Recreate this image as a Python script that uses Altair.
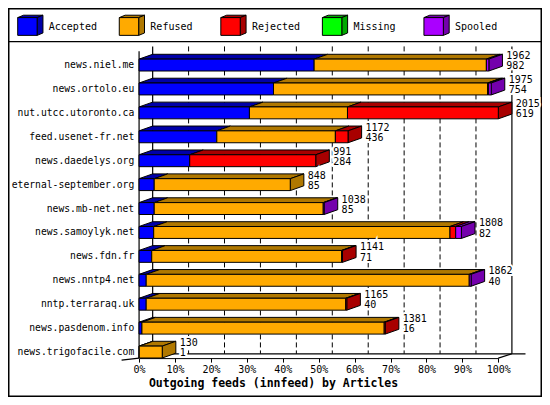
import altair as alt
import pandas as pd

# ---------------- data ----------------
hosts = ["news.niel.me", "news.ortolo.eu", "nut.utcc.utoronto.ca", "feed.usenet-fr.net",
         "news.daedelys.org", "eternal-september.org", "news.mb-net.net", "news.samoylyk.net",
         "news.fdn.fr", "news.nntp4.net", "nntp.terraraq.uk", "news.pasdenom.info",
         "news.trigofacile.com"]
offered = [1962, 1975, 2015, 1172, 991, 848, 1038, 1808, 1141, 1862, 1165, 1381, 130]
accepted = [982, 754, 619, 436, 284, 85, 85, 82, 71, 40, 40, 16, 1]
refused = [966, 1201, 550, 665, 0, 763, 948, 1662, 1065, 1812, 1119, 1359, 129]
rejected = [0, 6, 846, 71, 707, 0, 0, 32, 5, 0, 6, 6, 0]
missing = [0, 0, 0, 0, 0, 0, 0, 0, 0, 0, 0, 0, 0]
spooled = [14, 14, 0, 0, 0, 0, 5, 32, 0, 10, 0, 0, 0]

statuses = ["Accepted", "Refused", "Rejected", "Missing", "Spooled"]
face_colors = ["#0000FF", "#FFAA00", "#FF0000", "#00FF00", "#AA00FF"]
shade_colors = ["#0000A8", "#B07800", "#A80000", "#00A800", "#7400AC"]
tick_values = [0, 10, 20, 30, 40, 50, 60, 70, 80, 90, 100]
x_title = "Outgoing feeds (innfeed) by Articles"

# ---------------- layout (reference pixels -> data units) ----------------
W, H = 534, 389
SX, SY = W / 550, H / 405
X0, X100 = 135.0, 505.0
Y0, Y12 = 59.4, 358.2
PPP = (X100 - X0) / 100.0
PPR = (Y12 - Y0) / 12.0


def px2x(p):
    return (p - X0) / PPP


def px2y(p):
    return (p - Y0) / PPR


DX = 14 / PPP
DY = 5 / PPR
HH = 6.2 / PPR
MONO = "DejaVu Sans Mono"
FLOOR_FRONT = 364.5

xs = alt.Scale(domain=[0, 100], range=[X0 * SX, X100 * SX], zero=False, nice=False)
ys = alt.Scale(domain=[0, 12], range=[Y0 * SY, Y12 * SY], zero=False, nice=False)

xaxis = alt.Axis(values=tick_values, labelExpr="datum.value + '%'",
                 offset=FLOOR_FRONT * SY - H,
                 tickSize=4, tickColor="black", domainColor="black", domainWidth=1,
                 labelFont=MONO, labelFontSize=10, labelColor="black", labelPadding=2,
                 labelFlush=False, labelOverlap=False, grid=False,
                 title=x_title, titleFont=MONO, titleFontSize=11.5, titleFontWeight="bold",
                 titleColor="black", titleX=273 * SX, titleY=(391 - FLOOR_FRONT) * SY,
                 titleAlign="center", titleBaseline="middle", titleAnchor="start")


def X(f):
    return alt.X(f, type="quantitative", scale=xs, axis=xaxis)


def Y(f):
    return alt.Y(f, type="quantitative", scale=ys, axis=None)


# ---------------- faces of the 3-D boxes ----------------
front, top, side = [], [], []
gid = [0]


def add_box(x0, x1, ytop, ybot, dx, dy, key, last):
    gid[0] += 1
    g = gid[0]
    front.append(dict(x=x0, x2=x1, y=ytop, y2=ybot, key=key))
    top.append(dict(g=g, y=ytop, x=x0, x2=x1, key=key + " shade"))
    top.append(dict(g=g, y=ytop - dy, x=x0 + dx, x2=x1 + dx, key=key + " shade"))
    if last:
        side.append(dict(g=g, x=x1, y=ytop, y2=ybot, key=key + " shade"))
        side.append(dict(g=g, x=x1 + dx, y=ytop - dy, y2=ybot - dy, key=key + " shade"))


maxv = max(offered)
labels = []
for i, h in enumerate(hosts):
    vals = [accepted[i], refused[i], rejected[i], missing[i], spooled[i]]
    segs = [(s, v) for s, v in zip(statuses, vals) if v > 0]
    cum = 0
    for j, (s, v) in enumerate(segs):
        a = cum / maxv * 100
        b = (cum + v) / maxv * 100
        add_box(a, b, i - HH, i + HH, DX, DY, s, j == len(segs) - 1)
        cum += v
    xe = offered[i] / maxv * 100 + DX + 4 / PPP
    labels.append(dict(x=xe, y=i - 9.4 / PPR, t=str(offered[i])))
    labels.append(dict(x=xe, y=i + 1.3 / PPR, t=str(accepted[i])))

# legend cubes
leg_text = []
for k, s in enumerate(statuses):
    lx = 10 + 104.6 * k
    add_box(px2x(lx), px2x(lx + 20), px2y(10), px2y(28.5), 6 / PPP, 2.5 / PPR, s, True)
    leg_text.append(dict(x=px2x(lx + 32), y=px2y(19.5), t=s))

front_df = pd.DataFrame(front)
top_df = pd.DataFrame(top)
side_df = pd.DataFrame(side)
lab_df = pd.DataFrame(labels)
leg_df = pd.DataFrame(leg_text)
host_df = pd.DataFrame(dict(y=list(range(len(hosts))), t=hosts))

fill = alt.Fill("key:N", legend=None,
                scale=alt.Scale(domain=statuses + [s + " shade" for s in statuses],
                                range=face_colors + shade_colors))

# ---------------- frame lines ----------------
yb_top, yb_floor = px2y(40), px2y(360)
solid = [
    dict(x=DX, x2=DX, y=yb_top, y2=yb_floor),                       # back wall left
    dict(x=100 + DX, x2=100 + DX, y=yb_top, y2=yb_floor),           # back wall right
    dict(x=DX, x2=px2x(533), y=yb_floor, y2=yb_floor),              # floor back edge
    dict(x=0, x2=0, y=px2y(45), y2=px2y(FLOOR_FRONT)),              # front left axis
    dict(x=px2x(117), x2=0, y=px2y(366.7), y2=px2y(FLOOR_FRONT)),   # left floor edge
    dict(x=100, x2=100 + DX, y=px2y(FLOOR_FRONT), y2=yb_floor),     # right floor edge
    dict(x=px2x(0), x2=px2x(550), y=px2y(35), y2=px2y(35)),         # legend separator
]
dashed = [dict(x=v + DX, x2=v + DX, y=yb_top, y2=yb_floor) for v in tick_values[1:-1]]
solid_df = pd.DataFrame(solid)
dashed_df = pd.DataFrame(dashed)

l_dash = alt.Chart(dashed_df).mark_rule(color="black", strokeDash=[5, 3], strokeWidth=1).encode(
    x=X("x"), x2="x2", y=Y("y"), y2="y2")
l_solid = alt.Chart(solid_df).mark_rule(color="black", strokeWidth=1.2).encode(
    x=X("x"), x2="x2", y=Y("y"), y2="y2")
l_top = alt.Chart(top_df).mark_area(orient="horizontal", stroke="black", strokeWidth=1).encode(
    y=Y("y"), x=X("x"), x2="x2", fill=fill, detail="g:N")
l_side = alt.Chart(side_df).mark_area(orient="vertical", stroke="black", strokeWidth=1).encode(
    x=X("x"), y=Y("y"), y2="y2", fill=fill, detail="g:N")
l_front = alt.Chart(front_df).mark_rect(stroke="black", strokeWidth=1).encode(
    x=X("x"), x2="x2", y=Y("y"), y2="y2", fill=fill)
l_hosts = alt.Chart(host_df).mark_text(align="right", baseline="middle", font=MONO,
                                        fontSize=9.7, color="black").encode(
    x=alt.value(130 * SX), y=Y("y"), text="t:N")
l_halo = alt.Chart(lab_df).mark_text(align="left", baseline="middle", font=MONO,
                                      fontSize=10, color="white", stroke="white",
                                      strokeWidth=4).encode(
    x=X("x"), y=Y("y"), text="t:N")
l_vals = alt.Chart(lab_df).mark_text(align="left", baseline="middle", font=MONO,
                                      fontSize=10, color="black").encode(
    x=X("x"), y=Y("y"), text="t:N")
l_leg = alt.Chart(leg_df).mark_text(align="left", baseline="middle", font=MONO,
                                     fontSize=10, color="black").encode(
    x=X("x"), y=Y("y"), text="t:N")

chart = alt.layer(l_dash, l_solid, l_top, l_side, l_front, l_hosts, l_halo, l_vals,
                  l_leg).properties(
    width=W, height=H, autosize="none", padding=0, background="white"
).configure_view(stroke="black", strokeWidth=3)

chart.save("out.html", embed_options={"renderer": "svg", "actions": False})
